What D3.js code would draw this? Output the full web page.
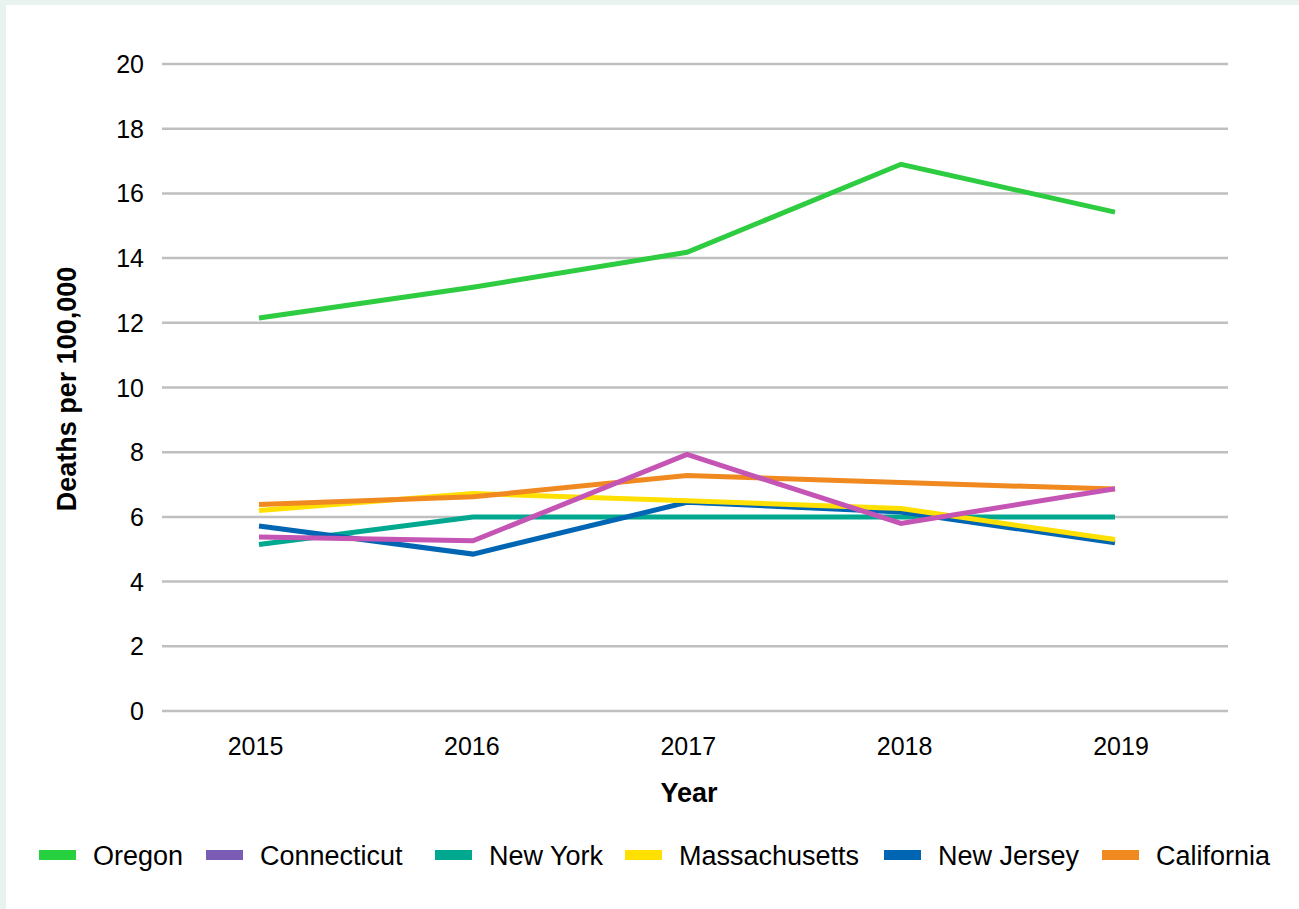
<!DOCTYPE html>
<html>
<head>
<meta charset="utf-8">
<script src="https://cdn.jsdelivr.net/npm/d3@7"></script>
<style>
  html, body { margin: 0; padding: 0; background: #fff; }
  svg { display: block; }
  text { font-family: "Liberation Sans", Arial, Helvetica, sans-serif; fill: #000; }
</style>
</head>
<body>
<svg id="chart" width="1299" height="909"></svg>
<script>
const years = ["2015", "2016", "2017", "2018", "2019"];
const yTicks = [0, 2, 4, 6, 8, 10, 12, 14, 16, 18, 20];

const oregon        = [12.15, 13.1, 14.18, 16.9, 15.42];
const connecticut   = [5.38, 5.26, 7.93, 5.8, 6.87];
const newYork       = [5.15, 6.0, 6.0, 6.0, 6.0];
const massachusetts = [6.2, 6.72, 6.5, 6.26, 5.3];
const newJersey     = [5.72, 4.85, 6.45, 6.15, 5.2];
const california    = [6.38, 6.62, 7.28, 7.06, 6.86];

const series = [
  { name: "Oregon",        values: oregon,        line: "#2ecc40", swatch: "#26d03f" },
  { name: "Connecticut",   values: connecticut,   line: "#c455b5", swatch: "#7a5cb5" },
  { name: "New York",      values: newYork,       line: "#00a88f", swatch: "#00a88f" },
  { name: "Massachusetts", values: massachusetts, line: "#ffe000", swatch: "#ffe000" },
  { name: "New Jersey",    values: newJersey,     line: "#0066b3", swatch: "#0066b3" },
  { name: "California",    values: california,    line: "#f0891f", swatch: "#f0891f" }
];
// drawing order (later on top)
const drawOrder = ["Oregon", "New York", "New Jersey", "Massachusetts", "California", "Connecticut"];

const svg = d3.select("#chart");
const W = 1299, H = 909;

// light border strips top and left
svg.append("rect").attr("x", 0).attr("y", 0).attr("width", W).attr("height", H).attr("fill", "#e8f2ee");
svg.append("rect").attr("x", 6).attr("y", 5).attr("width", W - 6).attr("height", H - 5).attr("fill", "#fff");

const gridX0 = 162, gridX1 = 1228;
const y = d3.scaleLinear().domain([0, 20]).range([711, 64]);
const xLine = d3.scalePoint().domain(years).range([259, 1115]);
const xLabel = d3.scalePoint().domain(years).range([255.5, 1121]);

// gridlines
svg.append("g").selectAll("line").data(yTicks).join("line")
  .attr("x1", gridX0).attr("x2", gridX1)
  .attr("y1", d => y(d)).attr("y2", d => y(d))
  .attr("stroke", "#bfbfbf").attr("stroke-width", 2.5);

// y tick labels
svg.append("g").selectAll("text").data(yTicks).join("text")
  .attr("x", 144).attr("y", d => y(d))
  .attr("text-anchor", "end").attr("dominant-baseline", "central")
  .attr("font-size", 25).text(d => d);

// x tick labels
svg.append("g").selectAll("text").data(years).join("text")
  .attr("x", d => xLabel(d)).attr("y", 746)
  .attr("text-anchor", "middle").attr("dominant-baseline", "central")
  .attr("font-size", 25).text(d => d);

// axis titles
svg.append("text").attr("x", 689).attr("y", 793)
  .attr("text-anchor", "middle").attr("dominant-baseline", "central")
  .attr("font-size", 27).attr("font-weight", "bold").text("Year");
svg.append("text")
  .attr("transform", "translate(67,389) rotate(-90)")
  .attr("text-anchor", "middle").attr("dominant-baseline", "central")
  .attr("font-size", 27).attr("font-weight", "bold").text("Deaths per 100,000");

// lines
const lineGen = d3.line().x((d, i) => xLine(years[i])).y(d => y(d));
const ordered = drawOrder.map(n => series.find(s => s.name === n));
svg.append("g").selectAll("path").data(ordered).join("path")
  .attr("d", s => lineGen(s.values))
  .attr("fill", "none").attr("stroke", s => s.line)
  .attr("stroke-width", 5).attr("stroke-linejoin", "miter").attr("stroke-linecap", "butt");

// legend
const legendX = [39, 206, 435, 625, 884, 1102];
const lg = svg.append("g").selectAll("g").data(series).join("g")
  .attr("transform", (s, i) => `translate(${legendX[i]},855)`);
lg.append("rect").attr("x", 0).attr("y", -5).attr("width", 37).attr("height", 10).attr("fill", s => s.swatch);
lg.append("text").attr("x", 54).attr("y", 1).attr("dominant-baseline", "central")
  .attr("font-size", 27).text(s => s.name);
</script>
</body>
</html>
